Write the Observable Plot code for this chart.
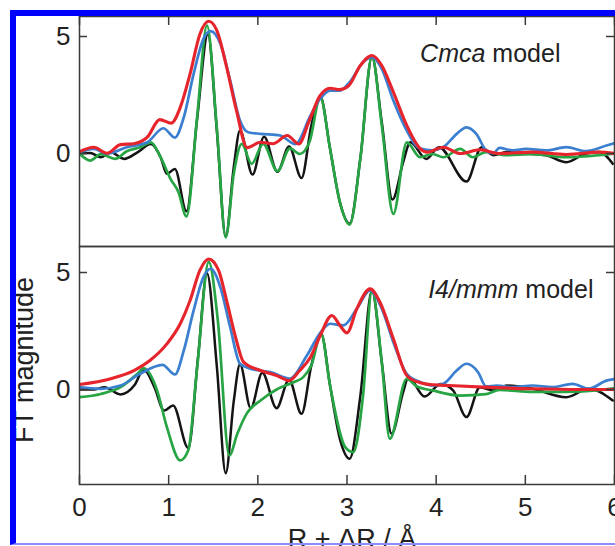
<!DOCTYPE html>
<html><head><meta charset="utf-8">
<script src="https://cdn.jsdelivr.net/npm/d3@7"></script>
<script src="https://cdn.jsdelivr.net/npm/@observablehq/plot@0.6"></script>
<style>
html,body{margin:0;padding:0;background:#fff;overflow:hidden;}
#wrap{position:relative;width:615px;height:546px;overflow:hidden;background:#fff;font-family:"Liberation Sans",Arial,sans-serif;}
#top,#bot{position:absolute;left:0;}
#top{top:0}
#bot{top:240px}
#labels{position:absolute;left:0;top:0;}
#border{position:absolute;left:10px;top:10px;width:620px;height:527px;border-left:6px solid #0000ff;border-top:6px solid #0000ff;border-bottom:2px solid #8c8cff;pointer-events:none;}
</style></head>
<body>
<div id="wrap">
  <div id="top"></div>
  <div id="bot"></div>
  <svg id="labels" width="615" height="546" font-family="Liberation Sans, Arial, sans-serif" fill="#222">
    <text transform="translate(33,360) rotate(-90)" text-anchor="middle" font-size="27">FT magnitude</text>
    <text x="352" y="548" text-anchor="middle" font-size="27">R + ΔR / Å</text>
  </svg>
  <div id="border"></div>
</div>
<script>
const xTicks = [0, 1, 2, 3, 4, 5, 6];
const yTicks = [0, 5];

// Cmca model panel: [R + dR (Å), FT value]
const cmcaExpReal = [[0,0],[0.12,0.02],[0.24,-0.16],[0.35,0.05],[0.5,-0.23],[0.65,0.05],[0.8,0.41],[0.91,-0.16],[0.98,-0.87],[1.07,-0.66],[1.2,-2.47],[1.32,1.5],[1.44,5.1],[1.54,1.0],[1.64,-3.55],[1.73,-0.58],[1.8,0.98],[1.94,-0.9],[2.07,0.72],[2.22,-0.78],[2.35,0.3],[2.49,-1.05],[2.6,1.2],[2.7,2.45],[2.81,0.2],[2.92,-2.08],[3.03,-3.0],[3.15,-0.2],[3.28,4.12],[3.39,1.34],[3.51,-1.97],[3.63,-0.37],[3.71,0.48],[3.89,-0.23],[4.03,0.27],[4.34,-1.2],[4.51,0.27],[4.64,-0.07],[4.79,0.06],[5.01,0],[5.23,-0.07],[5.46,-0.37],[5.68,0],[5.83,0.06],[5.98,-0.44]];
const cmcaFitReal = [[0,0],[0.12,-0.3],[0.24,-0.03],[0.4,-0.23],[0.53,0.1],[0.68,0.27],[0.8,0.48],[0.91,-0.16],[1.02,-1.08],[1.11,-1.65],[1.2,-2.69],[1.32,1.6],[1.43,5.47],[1.54,1.1],[1.64,-3.58],[1.73,-0.87],[1.82,0.41],[1.93,-0.44],[2.06,0.41],[2.22,-0.75],[2.36,0.22],[2.47,-0.02],[2.58,0.5],[2.7,2.4],[2.81,0.2],[2.92,-2.08],[3.03,-3.04],[3.15,-0.2],[3.28,4.15],[3.39,1.2],[3.52,-2.58],[3.67,0.48],[3.82,-0.16],[3.96,-0.02],[4.08,-0.16],[4.27,0.2],[4.41,-0.16],[4.56,0.06],[4.79,-0.07],[5.08,-0.03],[5.46,-0.16],[5.83,-0.07],[6,0]];
const cmcaExpMag = [[0,0.05],[0.16,0.2],[0.31,-0.01],[0.53,0.27],[0.76,0.48],[0.94,1.08],[1.07,0.68],[1.17,1.55],[1.28,3.4],[1.39,4.9],[1.47,5.23],[1.58,4.69],[1.69,3.12],[1.8,1.41],[1.89,0.91],[2.03,0.84],[2.25,0.77],[2.42,0.4],[2.59,1.62],[2.7,2.34],[2.81,2.69],[2.92,2.69],[3.03,3.05],[3.18,3.9],[3.28,4.12],[3.39,3.62],[3.52,2.26],[3.67,0.98],[3.82,0.21],[3.96,0.14],[4.08,0.27],[4.23,0.84],[4.34,1.12],[4.45,0.84],[4.56,0.13],[4.64,0],[4.71,0.24],[4.86,0.13],[5.01,0.2],[5.23,0.13],[5.46,0.27],[5.68,0.1],[5.91,0.34],[6,0.44]];
const cmcaFitMag = [[0,0.08],[0.16,0.27],[0.31,0.01],[0.46,0.38],[0.61,0.42],[0.76,0.7],[0.9,1.45],[1.03,1.3],[1.13,1.97],[1.24,3.4],[1.35,5.1],[1.45,5.65],[1.54,5.26],[1.65,3.69],[1.76,1.84],[1.88,0.25],[2.03,0.48],[2.17,0.42],[2.33,0.77],[2.46,0.41],[2.57,1.34],[2.7,2.48],[2.81,2.79],[2.92,2.73],[3.02,2.9],[3.15,3.76],[3.28,4.19],[3.39,3.76],[3.52,2.62],[3.67,1.2],[3.82,0.21],[3.9,0.06],[4.08,0.27],[4.27,0],[4.49,0.16],[4.71,0],[5.08,0.06],[5.46,-0.04],[5.83,0.06],[6,0]];

// I4/mmm model panel
const i4ExpReal = [[0,0],[0.16,0],[0.28,0.1],[0.46,-0.21],[0.62,0.2],[0.72,0.85],[0.84,0.1],[0.95,-0.9],[1.05,-0.68],[1.22,-2.5],[1.33,1.4],[1.43,4.97],[1.54,1.0],[1.64,-3.58],[1.73,-0.5],[1.8,1.08],[1.92,-0.8],[2.05,0.72],[2.21,-0.8],[2.35,0.42],[2.49,-1.04],[2.6,1.03],[2.71,2.38],[2.81,0.17],[2.92,-2.11],[3.03,-2.96],[3.15,-0.26],[3.28,4.23],[3.39,1.17],[3.5,-1.89],[3.63,-0.11],[3.69,0.53],[3.87,-0.3],[4.05,0.24],[4.19,-0.04],[4.34,-1.18],[4.49,0.1],[4.64,-0.04],[4.79,0.17],[5.08,0.03],[5.46,-0.33],[5.71,0.03],[5.98,-0.47]];
const i4FitReal = [[0,-0.33],[0.24,-0.19],[0.46,0.1],[0.65,0.67],[0.72,0.9],[0.87,-0.04],[0.98,-1.61],[1.13,-3.03],[1.22,-2.6],[1.32,0.95],[1.45,5.45],[1.55,3.0],[1.68,-2.82],[1.77,-1.89],[1.88,-1.0],[2.03,-0.47],[2.21,0],[2.4,0.31],[2.51,0.53],[2.6,1.03],[2.71,2.38],[2.81,0.17],[2.98,-2.46],[3.07,-2.68],[3.18,-0.26],[3.28,4.23],[3.39,1.17],[3.48,-2.11],[3.67,0.46],[3.78,0.14],[3.97,-0.05],[4.27,-0.26],[4.56,-0.2],[4.71,-0.02],[5.08,-0.1],[5.46,-0.1],[5.83,-0.03],[6,0.05]];
const i4ExpMag = [[0,0.1],[0.24,0.03],[0.46,0.17],[0.68,0.67],[0.93,1.05],[1.07,0.64],[1.17,1.67],[1.28,3.38],[1.39,4.8],[1.47,5.16],[1.58,4.37],[1.69,2.66],[1.8,1.1],[1.91,0.9],[2.14,0.74],[2.36,0.47],[2.55,1.45],[2.7,2.42],[2.81,2.81],[2.96,2.74],[3.11,3.45],[3.26,4.23],[3.39,3.45],[3.52,2.02],[3.67,0.67],[3.82,0.32],[3.97,0.17],[4.08,0.24],[4.23,0.81],[4.34,1.1],[4.47,0.74],[4.56,0.13],[4.68,0.17],[4.86,0.1],[5.08,0.17],[5.3,0.1],[5.53,0.24],[5.71,0.03],[5.91,0.38],[6,0.45]];
const i4FitMag = [[0,0.21],[0.35,0.46],[0.61,0.81],[0.79,1.24],[0.98,1.95],[1.13,2.81],[1.24,3.8],[1.35,5.09],[1.45,5.58],[1.56,5.09],[1.65,3.8],[1.75,2.24],[1.84,1.17],[2.03,0.81],[2.21,0.6],[2.35,0.38],[2.47,0.81],[2.59,1.38],[2.7,2.31],[2.83,3.16],[2.92,2.74],[3.0,2.42],[3.11,3.45],[3.26,4.3],[3.37,3.73],[3.52,2.17],[3.67,0.6],[3.82,0.29],[3.97,0.2],[4.14,0.17],[4.53,0.1],[5.08,0.03],[5.64,0],[6,0]];

const cmcaLabel = ["Cmca", "model"];
const i4Label = ["I4/mmm", "model"];

const BLACK = "#141414", GREEN = "#27a443", BLUE = "#3b7fd0", RED = "#e6242b", FRAME = "#3a3a3a";
const FONT = "Liberation Sans, Arial, sans-serif";
const SVGNS = "http://www.w3.org/2000/svg";

function panel({exp, fit, expMag, fitMag, yDomain, height, marginTop, marginBottom, label, labelX, labelY, bottom}) {
  const W = 615, ML = 79, MR = 1;
  const plotW = W - ML - MR;
  const plotH = height - marginTop - marginBottom;
  const line = (data, stroke, sw) => Plot.line(data, {x: d => d[0], y: d => d[1], stroke, strokeWidth: sw, curve: "monotone-x", clip: true});
  const full = label.join(" ");
  const svg = Plot.plot({
    width: W, height, marginLeft: ML, marginRight: MR, marginTop, marginBottom,
    x: {domain: [0, 6], axis: null},
    y: {domain: yDomain, axis: null},
    style: {fontFamily: FONT, fontSize: "26px", color: "#222", background: "transparent", overflow: "visible"},
    marks: [
      line(exp, BLACK, 2.5),
      line(fit, GREEN, 2.7),
      line(expMag, BLUE, 2.7),
      line(fitMag, RED, 3.1),
      Plot.frame({stroke: FRAME, strokeWidth: 1.5}),
      Plot.tickY(yTicks, {y: d => d, insetRight: plotW - 8, stroke: FRAME, strokeWidth: 1.5}),
      Plot.tickY(yTicks, {y: d => d, insetLeft: plotW - 8, stroke: FRAME, strokeWidth: 1.5}),
      bottom
        ? Plot.tickX(xTicks, {x: d => d, insetTop: plotH - 9, stroke: FRAME, strokeWidth: 1.5})
        : Plot.tickX(xTicks, {x: d => d, insetBottom: plotH - 9, stroke: FRAME, strokeWidth: 1.5}),
      Plot.axisY(yTicks, {tickSize: 0, tickPadding: 9, fontSize: 26, label: null}),
      bottom ? Plot.axisX(xTicks, {tickSize: 0, tickPadding: 13, fontSize: 26, label: null}) : null,
      Plot.text([full], {x: labelX, y: labelY, text: d => d, textAnchor: "start", lineAnchor: "bottom", fontSize: 25, fill: "#222"})
    ]
  });
  // italicise the space-group symbol inside the panel label
  svg.querySelectorAll("text").forEach(t => {
    if (t.textContent === full) {
      t.textContent = "";
      const a = document.createElementNS(SVGNS, "tspan");
      a.setAttribute("font-style", "italic");
      a.textContent = label[0];
      const b = document.createElementNS(SVGNS, "tspan");
      b.textContent = " " + label[1];
      t.append(a, b);
    }
  });
  return svg;
}

document.getElementById("top").append(panel({
  exp: cmcaExpReal, fit: cmcaFitReal, expMag: cmcaExpMag, fitMag: cmcaFitMag,
  yDomain: [-3.974, 5.855], height: 250, marginTop: 16, marginBottom: 4,
  label: cmcaLabel, labelX: 3.82, labelY: 3.89, bottom: false
}));
document.getElementById("bot").append(panel({
  exp: i4ExpReal, fit: i4FitReal, expMag: i4ExpMag, fitMag: i4FitMag,
  yDomain: [-4.06, 6.111], height: 306, marginTop: 6, marginBottom: 62,
  label: i4Label, labelX: 3.91, labelY: 3.93, bottom: true
}));
</script>
</body></html>
